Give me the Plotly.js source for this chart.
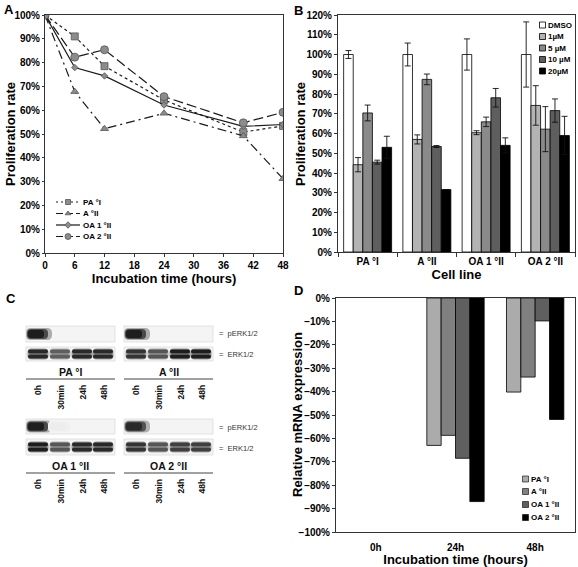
<!DOCTYPE html>
<html><head><meta charset="utf-8">
<script src="https://cdn.plot.ly/plotly-3.0.1.min.js"></script>
<style>body{margin:0;padding:0;background:#fff}#chart{width:578px;height:567px}</style>
</head><body><div id="chart"></div>
<script>
// ---------- Panel A data ----------
const timeHours = [0, 6, 12, 24, 40, 48];
const prolifPA  = [100, 91, 78.5, 64.3, 50.8, 53.4];
const prolifA   = [100, 67.8, 52.2, 58.7, 49.2, 31.2];
const prolifOA1 = [100, 77.9, 74.4, 62.2, 53.2, 54];
const prolifOA2 = [100, 82.3, 85.4, 65.7, 54.7, 59.1];
const lineNamesA = ['PA °I', 'A °II', 'OA 1 °II', 'OA 2 °II'];

// ---------- Panel B data ----------
const cellLines = ['PA °I', 'A °II', 'OA 1 °II', 'OA 2 °II'];
const doseNames = ['DMSO', '1µM', '5 µM', '10 µM', '20µM'];
const valDMSO = [100, 100, 100, 100];
const val1uM  = [44.2, 57, 60.4, 74.2];
const val5uM  = [70.4, 87.4, 65.9, 62.2];
const val10uM = [45.5, 53.4, 78.1, 71.6];
const val20uM = [53, 31.6, 54, 59];
const errDMSO = [2, 5.8, 7.9, 16.5];
const err1uM  = [3.6, 2.3, 1, 10];
const err5uM  = [4, 2.7, 2.4, 11.4];
const err10uM = [1, 0.5, 4.7, 5.9];
const err20uM = [5.6, 0, 3.8, 9.7];

// ---------- Panel C data (band intensities, 0..1) ----------
const blotLines = ['PA °I', 'A °II', 'OA 1 °II', 'OA 2 °II'];
const laneLabels = ['0h', '30min', '24h', '48h'];
const pERK = [[1, 0, 0, 0], [1, 0, 0, 0], [1, 0.05, 0, 0], [0.95, 0, 0, 0]];
const ERK  = [[0.95, 0.7, 0.95, 0.95], [0.9, 0.75, 1, 1], [1, 0.75, 0.95, 0.95], [0.9, 0.75, 0.85, 0.85]];

// ---------- Panel D data ----------
const timePoints = ['0h', '24h', '48h'];
const mrnaPA  = [0, -63, -40.2];
const mrnaA   = [0, -58.7, -33.8];
const mrnaOA1 = [0, -68.5, -9.8];
const mrnaOA2 = [0, -87, -51.9];

const W = 578, H = 567;
const FONT = 'Liberation Sans, Arial, sans-serif';
const px = v => v / W, py = v => 1 - v / H;
const OV = {xaxis: 'x4', yaxis: 'y4'}; // full-figure overlay axes in pixel units

const traces = [];
const shapes = [];
const annotations = [];
const legFont = {family: FONT, size: 8, color: '#000', weight: 'bold'};

// ---------- Panel A ----------
const lineStyles = [
  {dash: '3px,3px', symbol: 'square', size: 7},
  {dash: '9px,4px,2px,4px', symbol: 'triangle-up', size: 7},
  {dash: 'solid', symbol: 'diamond', size: 5},
  {dash: '10px,4px', symbol: 'circle', size: 8}
];
const legDashes = ['2px,3px', '7px,3px', 'solid', '7px,3px'];
const legAY = [202, 213.5, 225, 236.5];
[prolifPA, prolifA, prolifOA1, prolifOA2].forEach((ys, i) => {
  const st = lineStyles[i];
  const line = {color: '#1a1a1a', width: 1.2, dash: st.dash};
  const marker = {symbol: st.symbol, size: st.size, color: '#8c8c8c', line: {color: '#555', width: 0.8}};
  traces.push({type: 'scatter', mode: 'lines+markers', x: timeHours, y: ys, name: lineNamesA[i],
    xaxis: 'x', yaxis: 'y', showlegend: false, line: line, marker: marker});
  // compact legend entry
  traces.push(Object.assign({type: 'scatter', mode: 'lines', x: [56, 80], y: [legAY[i], legAY[i]], showlegend: false,
    hoverinfo: 'skip', line: Object.assign({}, line, {dash: legDashes[i]})}, OV));
  traces.push(Object.assign({type: 'scatter', mode: 'markers', x: [68], y: [legAY[i]], showlegend: false,
    hoverinfo: 'skip', marker: Object.assign({}, marker, {size: Math.max(st.size - 2, 5)})}, OV));
  annotations.push({text: lineNamesA[i], xref: 'x4', yref: 'y4', x: 81, y: legAY[i], xanchor: 'left', yanchor: 'middle',
    showarrow: false, font: legFont});
});

// ---------- Panel B ----------
const doseColors = ['#ffffff', '#b3b3b3', '#8a8a8a', '#5e5e5e', '#000000'];
const doseVals = [valDMSO, val1uM, val5uM, val10uM, val20uM];
const doseErrs = [errDMSO, err1uM, err5uM, err10uM, err20uM];
const legBY = [25, 36.5, 48, 59.5, 71];
doseVals.forEach((v, i) => {
  traces.push({
    type: 'bar', x: cellLines, y: v, name: doseNames[i], xaxis: 'x2', yaxis: 'y2', showlegend: false,
    marker: {color: doseColors[i], line: {color: '#000', width: 0.8}},
    error_y: {type: 'data', array: doseErrs[i], visible: true, color: '#111', thickness: 0.9, width: 3}
  });
  traces.push(Object.assign({type: 'scatter', mode: 'markers', x: [542.5], y: [legBY[i]], showlegend: false, hoverinfo: 'skip',
    marker: {symbol: 'square', size: 6, color: doseColors[i], line: {color: '#000', width: 0.8}}}, OV));
  annotations.push({text: doseNames[i], xref: 'x4', yref: 'y4', x: 546, y: legBY[i], xanchor: 'left', yanchor: 'middle',
    showarrow: false, font: legFont});
});

// ---------- Panel D ----------
const mrnaColors = ['#ababab', '#808080', '#5f5f5f', '#000000'];
const mrnaVals = [mrnaPA, mrnaA, mrnaOA1, mrnaOA2];
const barW = 0.18;
const legDY = [479, 491.5, 504.5, 517.5];
mrnaVals.forEach((v, i) => {
  traces.push({
    type: 'bar', x: timePoints, y: v, name: lineNamesA[i], xaxis: 'x3', yaxis: 'y3', showlegend: false,
    width: barW, offset: -2 * barW + i * barW,
    marker: {color: mrnaColors[i], line: {color: '#000', width: v.map(d => d === 0 ? 0 : 0.8)}}
  });
  traces.push(Object.assign({type: 'scatter', mode: 'markers', x: [525.5], y: [legDY[i]], showlegend: false, hoverinfo: 'skip',
    marker: {symbol: 'square', size: 6, color: mrnaColors[i], line: {color: '#000', width: 0.6}}}, OV));
  annotations.push({text: lineNamesA[i], xref: 'x4', yref: 'y4', x: 529, y: legDY[i], xanchor: 'left', yanchor: 'middle',
    showarrow: false, font: legFont});
});

const tickFont = {family: FONT, size: 10, color: '#000', weight: 'bold'};
const titleFont = {family: FONT, size: 13, color: '#000', weight: 'bold'};
const axBase = {showline: true, linecolor: '#333', linewidth: 1, mirror: true, showgrid: false, zeroline: false,
  ticks: 'outside', ticklen: 3, tickcolor: '#333', tickfont: tickFont};

// Panel letters
[['A', 2, 0], ['B', 292, 1], ['C', 4, 289], ['D', 292, 281]].forEach(([t, x, y]) => {
  annotations.push({text: t, xref: 'paper', yref: 'paper', x: px(x), y: py(y), xanchor: 'left', yanchor: 'top',
    showarrow: false, font: {family: FONT, size: 13, weight: 'bold', color: '#000'}});
});
// Y axis titles
[['Proliferation rate', 10, 134], ['Proliferation rate', 300, 134], ['Relative mRNA expression', 297, 415]].forEach(([t, x, y]) => {
  annotations.push({text: t, xref: 'x4', yref: 'y4', x: x, y: y, textangle: -90, xanchor: 'center', yanchor: 'middle',
    showarrow: false, font: titleFont});
});

// ---------- Panel C drawing (overlay pixel units) ----------
const blotX0 = [26, 124, 26, 124];
const rowY = [[326, 342, 347, 361], [419, 434, 439, 455]];
const laneOff = [12, 34, 56, 77];
const blotW = 89;
function rr(x0, y0, x1, y1, r) {
  return `M${x0 + r},${y0} L${x1 - r},${y0} Q${x1},${y0} ${x1},${y0 + r} L${x1},${y1 - r} Q${x1},${y1} ${x1 - r},${y1} L${x0 + r},${y1} Q${x0},${y1} ${x0},${y1 - r} L${x0},${y0 + r} Q${x0},${y0} ${x0 + r},${y0} Z`;
}
function gray(a) { const g = Math.round(248 - 218 * a); return `rgb(${g},${g},${g})`; }
blotLines.forEach((name, b) => {
  const x0 = blotX0[b], row = rowY[b < 2 ? 0 : 1];
  [[row[0], row[1]], [row[2], row[3]]].forEach(([ya, yb]) => {
    shapes.push({type: 'rect', xref: 'x4', yref: 'y4', x0: x0, x1: x0 + blotW, y0: ya, y1: yb,
      fillcolor: '#f4f4f4', line: {color: '#dcdcdc', width: 0.8}, layer: 'below'});
  });
  pERK[b].forEach((a, l) => {
    if (a <= 0.02) return;
    const cx = x0 + laneOff[l], ym = (row[0] + row[1]) / 2;
    shapes.push({type: 'path', xref: 'x4', yref: 'y4', path: rr(cx - 12, ym - 6, cx + 14, ym + 6, 5),
      fillcolor: gray(a * 0.35), line: {width: 0}});
    shapes.push({type: 'path', xref: 'x4', yref: 'y4', path: rr(cx - 11, ym - 5, cx + 10, ym + 5, 4),
      fillcolor: gray(a * 0.8), line: {width: 0}});
    shapes.push({type: 'path', xref: 'x4', yref: 'y4', path: rr(cx - 10, ym - 4, cx + 6, ym + 4, 3),
      fillcolor: gray(a), line: {width: 0}});
  });
  ERK[b].forEach((a, l) => {
    const cx = x0 + laneOff[l], ym = (row[2] + row[3]) / 2;
    shapes.push({type: 'path', xref: 'x4', yref: 'y4', path: rr(cx - 10.5, ym - 5.5, cx + 10.5, ym + 5.5, 4),
      fillcolor: gray(a * 0.45), line: {width: 0}});
    shapes.push({type: 'path', xref: 'x4', yref: 'y4', path: rr(cx - 10, ym - 4.5, cx + 10, ym - 0.6, 2),
      fillcolor: gray(a), line: {width: 0}});
    shapes.push({type: 'path', xref: 'x4', yref: 'y4', path: rr(cx - 10, ym + 0.6, cx + 10, ym + 4.5, 2),
      fillcolor: gray(a), line: {width: 0}});
  });
  const labY = row[3] + 11;
  annotations.push({text: name, xref: 'x4', yref: 'y4', x: x0 + blotW / 2, y: labY, showarrow: false,
    xanchor: 'center', yanchor: 'middle', font: {family: FONT, size: 10.5, weight: 'bold', color: '#111'}});
  shapes.push({type: 'line', xref: 'x4', yref: 'y4', x0: x0, x1: x0 + blotW, y0: row[3] + 18, y1: row[3] + 18,
    line: {color: '#444', width: 1.2}});
  laneLabels.forEach((lab, l) => {
    annotations.push({text: lab, xref: 'x4', yref: 'y4', x: x0 + laneOff[l], y: row[3] + 22, showarrow: false,
      textangle: -90, xanchor: 'center', yanchor: 'top', font: {family: FONT, size: 8.5, weight: 'bold', color: '#111'}});
  });
});
[[333, 'pERK1/2'], [354, 'ERK1/2'], [427, 'pERK1/2'], [448, 'ERK1/2']].forEach(([y, t]) => {
  annotations.push({text: '=  ' + t, xref: 'x4', yref: 'y4', x: 217, y: y, showarrow: false, xanchor: 'left', yanchor: 'middle',
    font: {family: FONT, size: 7.5, color: '#333'}});
});

// dummy trace to anchor overlay axes
traces.push(Object.assign({type: 'scatter', x: [0], y: [0], mode: 'markers', marker: {opacity: 0}, showlegend: false, hoverinfo: 'skip'}, OV));

const layout = {
  width: W, height: H, margin: {l: 0, r: 0, t: 0, b: 0}, paper_bgcolor: '#fff', plot_bgcolor: 'rgba(0,0,0,0)',
  font: {family: FONT}, barmode: 'group', bargap: 0.19, bargroupgap: 0, showlegend: false,
  xaxis: Object.assign({}, axBase, {domain: [px(45), px(283)], range: [0, 48], dtick: 6, tick0: 0, anchor: 'y',
    title: {text: 'Incubation time (hours)', font: titleFont, standoff: 2}}),
  yaxis: Object.assign({}, axBase, {domain: [py(253), py(15)], range: [0, 100], dtick: 10, ticksuffix: '%', anchor: 'x', ticklen: 2}),
  xaxis2: Object.assign({}, axBase, {domain: [px(338), px(575)], type: 'category', tickson: 'boundaries', anchor: 'y2',
    ticklen: 4, title: {text: 'Cell line', font: titleFont, standoff: 2}}),
  yaxis2: Object.assign({}, axBase, {domain: [py(252), py(15)], range: [0, 120], dtick: 10, ticksuffix: '%', anchor: 'x2'}),
  xaxis3: Object.assign({}, axBase, {domain: [px(336), px(575)], type: 'category', ticklen: 6, tickcolor: 'rgba(0,0,0,0)', anchor: 'y3',
    title: {text: 'Incubation time (hours)', font: titleFont, standoff: 3}}),
  yaxis3: Object.assign({}, axBase, {domain: [py(532), py(298)], range: [-100, 0], dtick: 10, ticksuffix: '%', anchor: 'x3'}),
  xaxis4: {domain: [0, 1], range: [0, W], visible: false, fixedrange: true, anchor: 'y4'},
  yaxis4: {domain: [0, 1], range: [H, 0], visible: false, fixedrange: true, anchor: 'x4'},
  shapes: shapes, annotations: annotations
};
Plotly.newPlot('chart', traces, layout, {displayModeBar: false, staticPlot: true});
</script></body></html>
